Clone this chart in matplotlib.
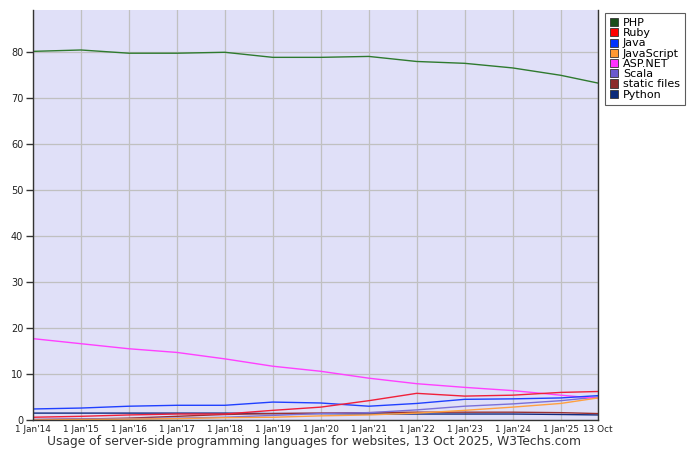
"""Usage of server-side programming languages for websites (W3Techs)."""

import matplotlib.pyplot as plt
import matplotlib.patches as mpatches
import pandas as pd

dates = pd.to_datetime([
    "2014-01-01", "2015-01-01", "2016-01-01", "2017-01-01", "2018-01-01",
    "2019-01-01", "2020-01-01", "2021-01-01", "2022-01-01", "2023-01-01",
    "2024-01-01", "2025-01-01", "2025-10-13",
])
tick_labels = ["1 Jan'14", "1 Jan'15", "1 Jan'16", "1 Jan'17", "1 Jan'18",
               "1 Jan'19", "1 Jan'20", "1 Jan'21", "1 Jan'22", "1 Jan'23",
               "1 Jan'24", "1 Jan'25", "13 Oct"]

php = [80.2, 80.5, 79.8, 79.8, 80.0, 78.9, 78.9, 79.1, 78.0, 77.6, 76.6, 75.0, 73.3]
ruby = [0.6, 0.8, 1.1, 1.3, 1.3, 2.1, 2.8, 4.2, 5.8, 5.2, 5.4, 6.0, 6.2]
java = [2.4, 2.6, 3.0, 3.2, 3.2, 3.9, 3.7, 3.0, 3.6, 4.5, 4.6, 4.8, 5.3]
javascript = [0.0, 0.1, 0.2, 0.3, 0.5, 0.6, 0.9, 1.1, 1.5, 2.1, 2.8, 3.6, 4.8]
aspnet = [17.7, 16.6, 15.5, 14.7, 13.3, 11.7, 10.6, 9.1, 7.9, 7.1, 6.4, 5.4, 4.7]
scala = [0.1, 0.2, 0.3, 0.4, 0.6, 1.0, 1.4, 1.6, 2.2, 3.0, 3.5, 4.2, 5.0]
static_files = [0.1, 0.2, 0.4, 0.8, 1.2, 1.4, 1.5, 1.6, 1.7, 1.7, 1.7, 1.6, 1.4]
python = [1.5, 1.5, 1.5, 1.5, 1.5, 1.4, 1.4, 1.3, 1.3, 1.3, 1.3, 1.2, 1.1]

series = [
    ("PHP", php, "#2f7a2f", "#1b4d1b"),
    ("Ruby", ruby, "#f0203a", "#ff0000"),
    ("Java", java, "#2040ff", "#0033ff"),
    ("JavaScript", javascript, "#ffa040", "#ff9933"),
    ("ASP.NET", aspnet, "#ff40ff", "#ff33ff"),
    ("Scala", scala, "#7a70d8", "#6a5acd"),
    ("static files", static_files, "#9a3030", "#8b2a2a"),
    ("Python", python, "#102a80", "#0b2a7a"),
]

fig = plt.figure(figsize=(7, 4.55), dpi=100)
ax = fig.add_axes([33 / 700, 1 - 420 / 455, 565 / 700, 410 / 455])
ax.set_facecolor("#e0e0f8")

# draw in reverse so PHP sits on top like the original
for name, values, color, _ in reversed(series):
    ax.plot(dates, values, color=color, lw=1.0)

ax.set_xlim(dates[0], dates[-1])
ax.set_ylim(0, 89.2)
ax.set_xticks(dates)
ax.set_xticklabels(tick_labels, fontsize=6.4, color="#222222")
ax.set_yticks(range(0, 90, 10))
ax.set_yticklabels([str(v) for v in range(0, 90, 10)], fontsize=7, color="#222222")
ax.grid(True, color="#c0c0c0", lw=0.9)
ax.set_axisbelow(True)
ax.tick_params(axis="y", length=5, width=1, color="#333333", pad=2)
ax.tick_params(axis="x", length=0, pad=3.5)
ax.spines["top"].set_visible(False)
for side in ("left", "bottom", "right"):
    ax.spines[side].set_color("#333333")
    ax.spines[side].set_linewidth(1.0)

handles = [mpatches.Patch(facecolor=sw, edgecolor="#333333", lw=0.6, label=name)
           for name, _, _, sw in series]
leg = fig.legend(handles=handles, loc="upper left",
                 bbox_to_anchor=(605 / 700, 1 - 13 / 455), fontsize=8,
                 frameon=True, fancybox=False, edgecolor="#333333",
                 handlelength=0.75, handleheight=0.75, handletextpad=0.4,
                 labelspacing=0.02, borderpad=0.45, borderaxespad=0)
leg.get_frame().set_linewidth(0.8)

fig.text(314 / 700, 1 - 441 / 455,
         "Usage of server-side programming languages for websites, 13 Oct 2025, W3Techs.com",
         ha="center", va="center", fontsize=8.8, color="#333333")

fig.savefig("out.png", dpi=100)
